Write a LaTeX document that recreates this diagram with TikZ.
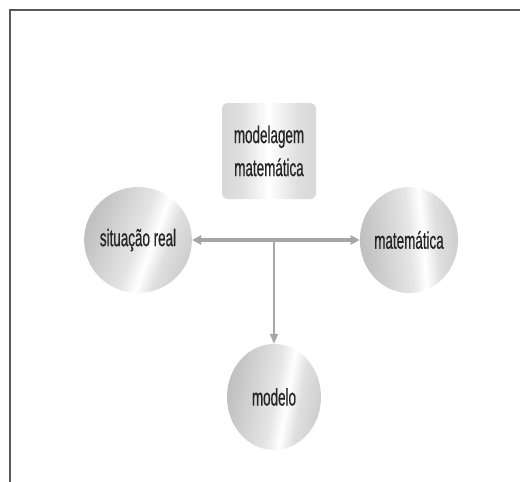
\documentclass[tikz,border=0pt]{standalone}
\usepackage{fontspec}
\setmainfont[FakeStretch=0.56,FakeBold=0.6]{Liberation Sans}
\usepackage{tikz}
\usetikzlibrary{shapes.geometric,arrows.meta}

\pgfdeclarehorizontalshading{metal}{100bp}{color(0bp)=(gray!75); color(30bp)=(gray!45);
  color(50bp)=(gray!20); color(57bp)=(white); color(64bp)=(gray!25); color(80bp)=(gray!45); color(100bp)=(gray!70)}
\pgfdeclarehorizontalshading{fosco}{100bp}{color(0bp)=(gray!45); color(35bp)=(gray!25);
  color(50bp)=(white); color(65bp)=(gray!25); color(100bp)=(gray!45)}

\begin{document}
\begin{tikzpicture}[x=1pt,y=-1pt,
  bola/.style={ellipse, shading=metal, minimum width=94pt, minimum height=106pt,
    inner sep=0pt, font=\fontsize{24}{30}\selectfont, text=black!85},
  caixa/.style={rectangle, rounded corners=6pt, shading=fosco, minimum width=94pt,
    minimum height=96pt, align=center, font=\fontsize{24}{33}\selectfont, text=black!85},
  seta/.style={gray!70, -{Triangle[length=9pt,width=9pt]}}]
  \useasboundingbox (0,0) rectangle (520,482);
  \fill[white] (0,0) rectangle (520,482);

  \draw[gray!70!black, line width=2.2pt] (10,482) -- (10,10) -- (520,10);

  \node[caixa] (modelagem) at (269,151) {modelagem\\matemática};
  \node[bola, shading angle=-20] (situacao) at (138,240) {situação real};
  \node[bola, shading angle=5] (matematica) at (409,240) {matemática};
  \node[bola, shading angle=-10] (modelo) at (274,397) {modelo};

  \draw[seta, {Triangle[length=9pt,width=9pt]}-{Triangle[length=9pt,width=9pt]}, line width=3.5pt]
    (situacao) -- (matematica);
  \draw[seta, line width=1.8pt, -{Triangle[length=10pt,width=8pt]}]
    (modelo |- situacao) -- (modelo);
\end{tikzpicture}
\end{document}
